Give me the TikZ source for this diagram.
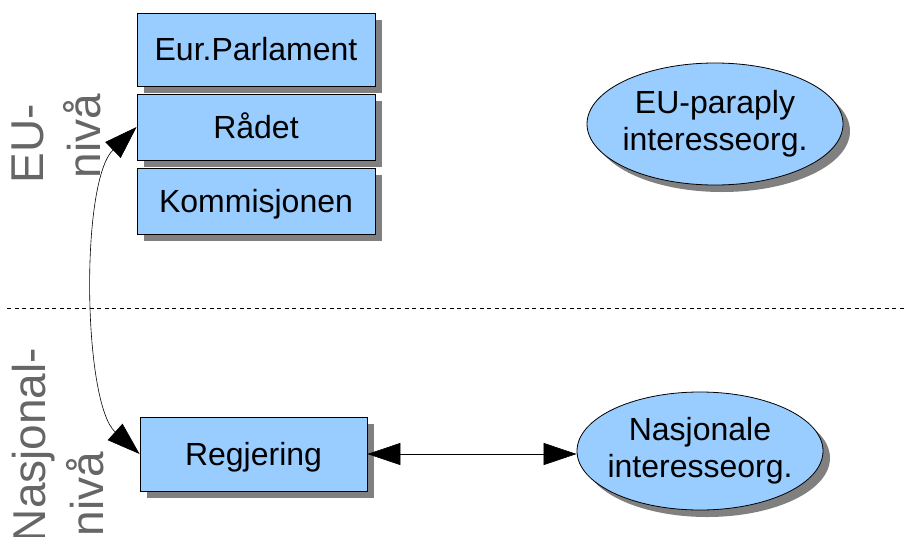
\documentclass[tikz,border=0pt]{standalone}
\usepackage{fontspec}
\setmainfont{Liberation Sans}
\usetikzlibrary{arrows.meta,shapes.geometric,shadows}
\definecolor{boxblue}{HTML}{99CCFF}
\definecolor{shgray}{HTML}{808080}
\definecolor{labgray}{HTML}{666666}
\begin{document}
\begin{tikzpicture}[x=1pt,y=-1pt,
  shadowed/.style={drop shadow={shadow xshift=7pt, shadow yshift=-7pt, fill=shgray, opacity=1, draw=none}},
  box/.style={draw=black, line width=0.8pt, fill=boxblue, shadowed, inner sep=0pt,
    text height=22.5pt, text depth=0pt, font=\fontsize{32}{38}\selectfont},
  oval/.style={ellipse, draw=black, line width=0.8pt, fill=boxblue, shadowed,
    inner ysep=0pt, inner xsep=-20pt, align=center, font=\fontsize{32}{37}\selectfont},
  lab/.style={rotate=90, anchor=base, text=labgray, inner sep=0pt, font=\fontsize{46}{54}\selectfont},
  conn/.style={line width=0.6pt, {Triangle[length=33pt,width=22pt]}-{Triangle[length=33pt,width=22pt]}}
]
\useasboundingbox (0,0) rectangle (905,536);
\clip (0,0) rectangle (905,536);

% level separator
\draw[dash pattern=on 4pt off 3.5pt, line width=0.6pt] (7,308) -- (905,308);

% level labels
\node[lab] (eu1) at (43,144) {EU-};
\node[lab] (eu2) at (100,136) {nivå};
\node[lab] (na1) at (45,445) {Nasjonal-};
\node[lab] (na2) at (103,494) {nivå};

% EU institutions
\node[box, minimum width=238pt, minimum height=73pt] (parl) at (256,49.5) {Eur.Parlament};
\node[box, minimum width=238pt, minimum height=66pt] (radet) at (256,127) {Rådet};
\node[box, minimum width=238pt, minimum height=66pt] (komm) at (256,201) {Kommisjonen};

% national
\node[box, minimum width=227pt, minimum height=74pt] (regj) at (253.5,454) {Regjering};

% interest organisations
\node[oval, minimum width=256pt, minimum height=122pt] (eupar) at (715,124) {EU-paraply\\interesseorg.};
\node[oval, minimum width=246pt, minimum height=118pt] (nasj) at (700,451) {Nasjonale\\interesseorg.};

% connectors
\draw[conn] (radet.west) .. controls (80,182) and (83,403) .. (regj.west);
\draw[conn] (regj.east) -- (regj.east -| nasj.west);
\end{tikzpicture}
\end{document}
